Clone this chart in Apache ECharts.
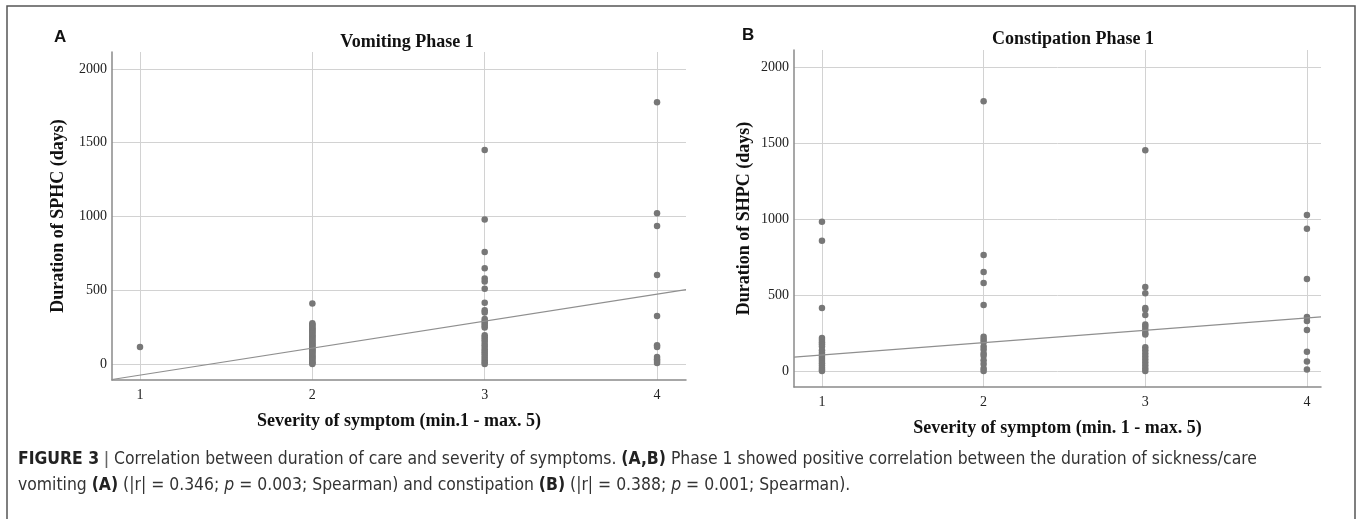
<!DOCTYPE html>
<html>
<head>
<meta charset="utf-8">
<script src="https://cdn.jsdelivr.net/npm/echarts@6/dist/echarts.min.js"></script>
<style>
html,body{margin:0;padding:0;background:#fff;}
#chart{width:1357px;height:519px;}
</style>
</head>
<body>
<div id="chart"></div>
<script>
// ---- data ----
const severityTicks = [1, 2, 3, 4];
const durationTicks = [0, 500, 1000, 1500, 2000];

const vomitingSev1 = [115];
const vomitingSev2 = [410, 276, 268, 259, 251, 243, 236, 228, 219, 212, 203, 196, 188, 181, 172, 164, 157, 149, 141, 133, 126, 118, 109, 101, 94, 86, 78, 69, 61, 53, 46, 38, 29, 21, 13, 6, 0];
const vomitingSev3 = [1450, 980, 760, 650, 580, 560, 510, 415, 365, 350, 305, 290, 276, 261, 247, 195, 181, 166, 151, 132, 117, 101, 86, 71, 56, 41, 26, 12, 0];
const vomitingSev4 = [1775, 1022, 935, 603, 325, 128, 115, 48, 33, 20, 8];
const vomitingFit = [-258, 183]; // intercept, slope

const constipationSev1 = [982, 857, 414, 218, 205, 190, 176, 161, 136, 121, 106, 93, 80, 66, 51, 36, 21, 9, 0];
const constipationSev2 = [1775, 763, 651, 580, 434, 226, 207, 191, 162, 141, 116, 101, 71, 46, 16, 0];
const constipationSev3 = [1452, 553, 512, 414, 405, 368, 306, 291, 271, 251, 240, 156, 136, 116, 96, 76, 56, 36, 16, 0];
const constipationSev4 = [1026, 936, 605, 355, 330, 270, 127, 62, 10];
const constipationFit = [23.7, 81.3];

const panelTitles = ['Vomiting Phase 1', 'Constipation Phase 1'];
const panelLetters = ['A', 'B'];
const yNames = ['Duration of SPHC (days)', 'Duration of SHPC (days)'];
const xNames = ['Severity of symptom (min.1 - max. 5)', 'Severity of symptom (min. 1 - max. 5)'];

// ---- build ----
function pts(groups) {
  const out = [];
  groups.forEach((arr, i) => arr.forEach(v => out.push([severityTicks[i], v])));
  return out;
}
const vomitingPts = pts([vomitingSev1, vomitingSev2, vomitingSev3, vomitingSev4]);
const constipationPts = pts([constipationSev1, constipationSev2, constipationSev3, constipationSev4]);

const xRanges = [[0.8375, 4.168], [0.827, 4.087]];
const yRanges = [[-108, 2115], [-105, 2112]];

function fitLine(fit, r) {
  return [[r[0], fit[0] + fit[1] * r[0]], [r[1], fit[0] + fit[1] * r[1]]];
}

const serif = '"Liberation Serif","Times New Roman",serif';
const gridCol = '#d2d2d2';
const axisCol = '#8a8a8a';
const dotCol = '#777777';
const plain = v => String(v);

function xAxis(i, gi, gap) {
  return {
    type: 'value', gridIndex: gi, min: xRanges[i][0], max: xRanges[i][1],
    name: xNames[i], nameLocation: 'middle', nameGap: gap,
    nameTextStyle: {fontFamily: serif, fontWeight: 'bold', fontSize: 18, color: '#111'},
    axisLine: {show: true, onZero: false, lineStyle: {color: axisCol, width: 1.5}},
    axisTick: {show: false, customValues: severityTicks},
    axisLabel: {customValues: severityTicks, formatter: plain, fontFamily: serif, fontSize: 14, color: '#222', margin: 8},
    splitLine: {show: true, lineStyle: {color: gridCol, width: 1}}
  };
}
function yAxis(i, gi, gap) {
  return {
    type: 'value', gridIndex: gi, min: yRanges[i][0], max: yRanges[i][1],
    name: yNames[i], nameLocation: 'middle', nameGap: gap, nameRotate: 90,
    nameTextStyle: {fontFamily: serif, fontWeight: 'bold', fontSize: 18, color: '#111'},
    axisLine: {show: true, onZero: false, lineStyle: {color: axisCol, width: 1.5}},
    axisTick: {show: false, customValues: durationTicks},
    axisLabel: {customValues: durationTicks, formatter: plain, fontFamily: serif, fontSize: 14, color: '#222', margin: 5},
    splitLine: {show: true, lineStyle: {color: gridCol, width: 1}}
  };
}

const capFont = '"Liberation Sans Narrow","DejaVu Sans Condensed","Liberation Sans",sans-serif';
const chart = echarts.init(document.getElementById('chart'), null, {renderer: 'canvas'});
chart.setOption({
  backgroundColor: '#fff',
  animation: false,
  title: [
    {text: panelLetters[0], left: 49, top: 24, textStyle: {fontFamily: '"Liberation Sans",Arial,sans-serif', fontWeight: 'bold', fontSize: 17, color: '#111'}},
    {text: panelLetters[1], left: 737, top: 22, textStyle: {fontFamily: '"Liberation Sans",Arial,sans-serif', fontWeight: 'bold', fontSize: 17, color: '#111'}},
    {text: panelTitles[0], left: 402, top: 28, textAlign: 'center', textStyle: {fontFamily: serif, fontWeight: 'bold', fontSize: 18, color: '#111'}},
    {text: panelTitles[1], left: 1068, top: 25, textAlign: 'center', textStyle: {fontFamily: serif, fontWeight: 'bold', fontSize: 18, color: '#111'}}
  ],
  grid: [
    {left: 112, top: 52, width: 574, height: 328, containLabel: false},
    {left: 794, top: 50, width: 527, height: 337, containLabel: false}
  ],
  xAxis: [xAxis(0, 0, 32), xAxis(1, 1, 32)],
  yAxis: [yAxis(0, 0, 45), yAxis(1, 1, 41)],
  series: [
    {type: 'scatter', xAxisIndex: 0, yAxisIndex: 0, data: vomitingPts, symbolSize: 6.5, itemStyle: {color: dotCol, opacity: 1}},
    {type: 'line', xAxisIndex: 0, yAxisIndex: 0, data: fitLine(vomitingFit, xRanges[0]), symbol: 'none', lineStyle: {color: '#8f8f8f', width: 1.2}, silent: true},
    {type: 'scatter', xAxisIndex: 1, yAxisIndex: 1, data: constipationPts, symbolSize: 6.5, itemStyle: {color: dotCol, opacity: 1}},
    {type: 'line', xAxisIndex: 1, yAxisIndex: 1, data: fitLine(constipationFit, xRanges[1]), symbol: 'none', lineStyle: {color: '#8f8f8f', width: 1.2}, silent: true}
  ],
  graphic: [
    {type: 'rect', shape: {x: 7, y: 6, width: 1348, height: 540}, style: {fill: 'none', stroke: '#555', lineWidth: 1.5}, silent: true},
    {type: 'text', left: 18, top: 446, style: {
      text: '{b|FIGURE 3} {s||} Correlation between duration of care and severity of symptoms. {b|(A,B)} Phase 1 showed positive correlation between the duration of sickness/care\nvomiting {b|(A)} (|r| = 0.346; {i|p} = 0.003; Spearman) and constipation {b|(B)} (|r| = 0.388; {i|p} = 0.001; Spearman).',
      font: '17.4px ' + capFont,
      fill: '#333', lineHeight: 26,
      rich: {
        b: {fontWeight: 'bold', fontFamily: capFont, fontSize: 17.4, fill: '#222', lineHeight: 26},
        i: {fontStyle: 'italic', fontFamily: capFont, fontSize: 17.4, fill: '#333', lineHeight: 26},
        s: {fontFamily: '"Liberation Sans",sans-serif', fontSize: 19, fill: '#666', lineHeight: 26}
      }
    }}
  ]
});
</script>
</body>
</html>
